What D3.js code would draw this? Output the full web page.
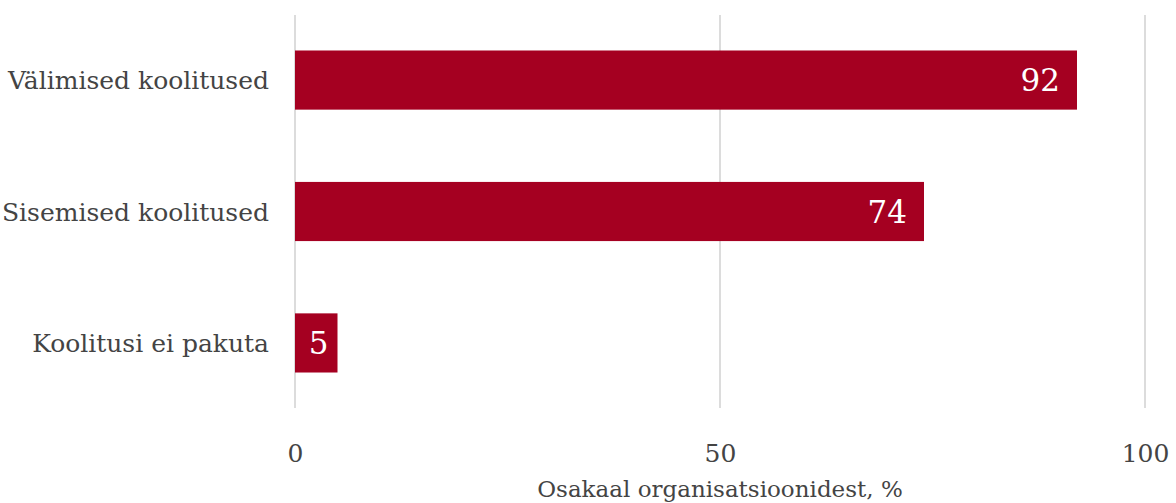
<!DOCTYPE html>
<html>
<head>
<meta charset="utf-8">
<script src="https://cdn.jsdelivr.net/npm/d3@7"></script>
<style>
  html, body { margin: 0; padding: 0; background: #fff; }
  svg { display: block; font-family: "DejaVu Serif", Georgia, serif; }
</style>
</head>
<body>
<svg id="chart" width="1176" height="503"></svg>
<script>
// Share of organisations offering each kind of training, %
const categories = ["Välimised koolitused", "Sisemised koolitused", "Koolitusi ei pakuta"];
const values = [92, 74, 5];
const tickValues = [0, 50, 100];
const axisTitle = "Osakaal organisatsioonidest, %";

const svg = d3.select("#chart");
const barColor = "#a50021";
const textColor = "#444444";

const x = d3.scaleLinear().domain([0, 100]).range([295, 1145]);
const y = d3.scaleBand().domain(categories).range([15, 408]).paddingInner(0.55).paddingOuter(0.27);

// vertical gridlines
svg.append("g").selectAll("line").data(tickValues).join("line")
  .attr("x1", d => x(d)).attr("x2", d => x(d))
  .attr("y1", 15).attr("y2", 408)
  .attr("stroke", "#dcdcdc").attr("stroke-width", 2);

// bars
svg.append("g").selectAll("rect").data(categories).join("rect")
  .attr("x", x(0))
  .attr("y", d => y(d))
  .attr("width", (d, i) => x(values[i]) - x(0))
  .attr("height", y.bandwidth())
  .attr("fill", barColor);

// value labels inside the bars
svg.append("g").selectAll("text").data(categories).join("text")
  .attr("x", (d, i) => x(values[i]) - (values[i] < 10 ? 9 : 17))
  .attr("y", d => y(d) + y.bandwidth() / 2 + 11)
  .attr("text-anchor", "end")
  .attr("fill", "#fff")
  .attr("font-size", 31)
  .text((d, i) => String(values[i]));

// category labels
svg.append("g").selectAll("text").data(categories).join("text")
  .attr("x", 269)
  .attr("y", d => y(d) + y.bandwidth() / 2 + 9)
  .attr("text-anchor", "end")
  .attr("fill", textColor)
  .attr("font-size", 25)
  .text(d => d);

// x axis tick labels
const xAxis = d3.axisBottom(x).tickValues(tickValues).tickSize(0).tickPadding(0);
const gx = svg.append("g").attr("transform", "translate(0,440)").call(xAxis);
gx.select(".domain").remove();
gx.selectAll("text")
  .attr("dy", 0).attr("y", 22)
  .attr("fill", textColor)
  .attr("font-size", 25)
  .attr("font-family", "DejaVu Serif, Georgia, serif");

// axis title
svg.append("text")
  .attr("x", x(50))
  .attr("y", 497)
  .attr("text-anchor", "middle")
  .attr("fill", textColor)
  .attr("font-size", 23)
  .text(axisTitle);
</script>
</body>
</html>
